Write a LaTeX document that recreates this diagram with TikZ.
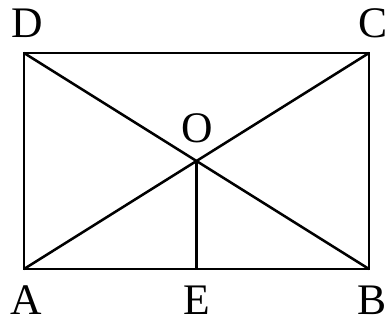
\documentclass[tikz,border=0pt]{standalone}
\usepackage{fontspec}
\setmainfont{Liberation Serif}
\usetikzlibrary{calc}
\tikzset{every picture/.style={line width=1.8pt,line join=miter},
  lbl/.style={inner sep=0pt,font=\fontsize{31}{36}\selectfont}}
\begin{document}
\begin{tikzpicture}[x=0.025cm,y=-0.025cm]
    \useasboundingbox (0,0) rectangle (392,323);
    \coordinate (A) at (24,269);
    \coordinate (B) at (369,269);
    \coordinate (C) at (369,53);
    \coordinate (D) at (24,53);
    \coordinate (O) at ($(A)!0.5!(C)$);
    \coordinate (E) at (O |- A);
    \draw (A) -- (B) -- (C) -- (D) -- cycle;
    \draw (A) -- (C) (B) -- (D);
    \draw (O) -- (E);
    \node [lbl] (lD) at (27,23) {D};
    \node [lbl] (lC) at (373,23) {C};
    \node [lbl] (lO) at (197,128) {O};
    \node [lbl] (lA) at (26,300) {A};
    \node [lbl] (lE) at (197,300) {E};
    \node [lbl] (lB) at (372,300) {B};
\end{tikzpicture}
\end{document}
